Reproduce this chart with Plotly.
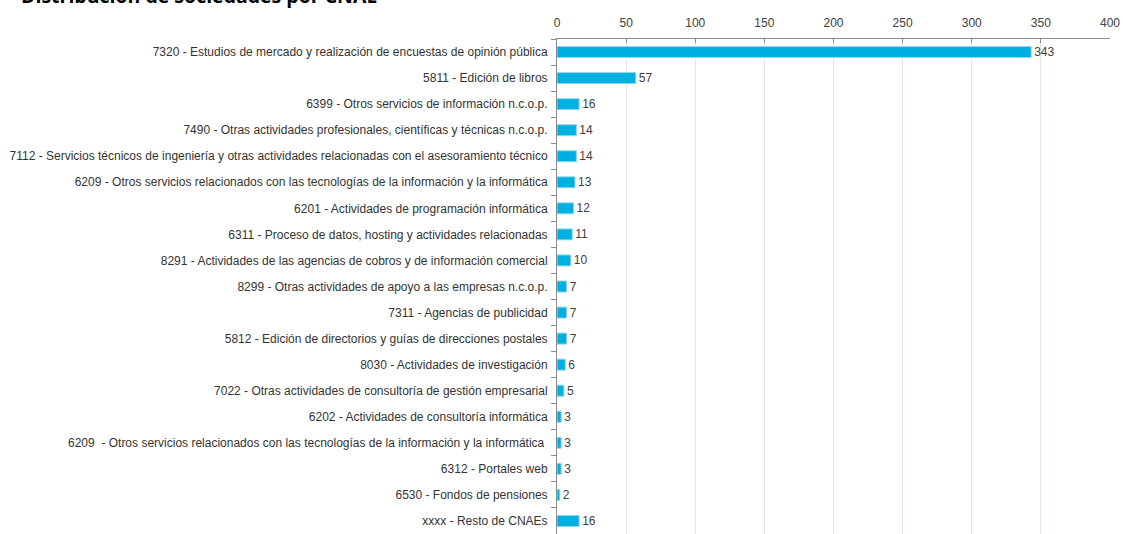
import plotly.graph_objects as go

categories = [
    "7320 - Estudios de mercado y realización de encuestas de opinión pública",
    "5811 - Edición de libros",
    "6399 - Otros servicios de información n.c.o.p.",
    "7490 - Otras actividades profesionales, científicas y técnicas n.c.o.p.",
    "7112 - Servicios técnicos de ingeniería y otras actividades relacionadas con el asesoramiento técnico",
    "6209 - Otros servicios relacionados con las tecnologías de la información y la informática",
    "6201 - Actividades de programación informática",
    "6311 - Proceso de datos, hosting y actividades relacionadas",
    "8291 - Actividades de las agencias de cobros y de información comercial",
    "8299 - Otras actividades de apoyo a las empresas n.c.o.p.",
    "7311 - Agencias de publicidad",
    "5812 - Edición de directorios y guías de direcciones postales",
    "8030 - Actividades de investigación",
    "7022 - Otras actividades de consultoría de gestión empresarial",
    "6202 - Actividades de consultoría informática",
    "6209 \u00a0- Otros servicios relacionados con las tecnologías de la información y la informática\u00a0",
    "6312 - Portales web",
    "6530 - Fondos de pensiones",
    "xxxx - Resto de CNAEs",
]
values = [343, 57, 16, 14, 14, 13, 12, 11, 10, 7, 7, 7, 6, 5, 3, 3, 3, 2, 16]
title_text = "Distribución de sociedades por CNAE"

FONT = "Liberation Sans"
L, R, T, B = 557, 13, 39, 0
PW = 1123 - L - R
PH = 534 - T - B

fig = go.Figure(
    go.Bar(
        x=values,
        y=categories,
        orientation="h",
        width=0.42,
        marker=dict(color="#00b0e0", line=dict(color="#8fd6ee", width=1)),
        text=values,
        texttemplate="%{x}",
        textposition="outside",
        constraintext="none",
        textfont=dict(family=FONT, size=12, color="#404040"),
        cliponaxis=False,
        hoverinfo="x+y",
    )
)

fig.update_layout(
    width=1123,
    height=534,
    margin=dict(l=L, r=R, t=T, b=B, autoexpand=False),
    paper_bgcolor="white",
    plot_bgcolor="white",
    showlegend=False,
    font=dict(family=FONT, size=12, color="#333333"),
    annotations=[
        dict(
            text="<b>" + title_text + "</b>",
            xref="paper", yref="paper",
            x=(19 - L) / PW, y=1 + (T - 11) / PH,
            xanchor="left", yanchor="bottom",
            showarrow=False,
            font=dict(family="Open Sans", size=19.5, color="#000000"),
        )
    ],
)

fig.update_xaxes(
    side="top",
    range=[0, 400],
    dtick=50,
    showgrid=True,
    gridcolor="#dfe9f5",
    gridwidth=1,
    showline=True,
    linecolor="#8c8c8c",
    linewidth=1,
    ticks="inside",
    ticklen=4,
    tickcolor="#8c8c8c",
    ticklabelstandoff=6,
    tickfont=dict(family=FONT, size=12, color="#404040"),
    zeroline=False,
)

fig.update_yaxes(
    autorange="reversed",
    showline=True,
    linecolor="#8c8c8c",
    linewidth=1,
    ticks="outside",
    tickson="boundaries",
    ticklen=5,
    tickcolor="#8c8c8c",
    ticklabelstandoff=6,
    tickfont=dict(family=FONT, size=12, color="#333333"),
    showgrid=False,
)

fig.write_html(
    "out.html",
    config={"displayModeBar": False},
    post_script="document.body.style.margin='0';document.body.style.overflow='hidden';",
)
